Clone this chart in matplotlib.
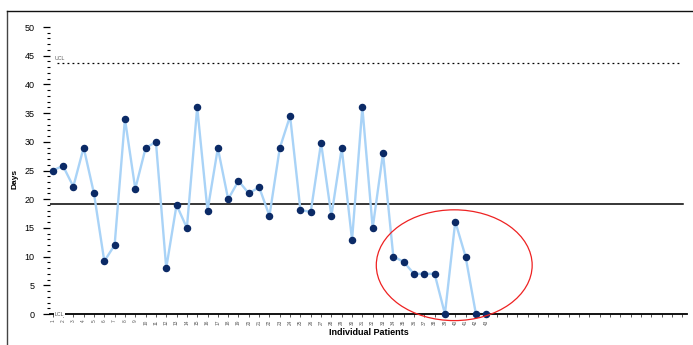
import matplotlib
matplotlib.use("Agg")
import matplotlib.pyplot as plt
from matplotlib.patches import Ellipse
from matplotlib.lines import Line2D
import numpy as np

plt.rcParams['font.family'] = ['Liberation Sans', 'DejaVu Sans']

patients = list(range(1, 44))
days = [25.0, 25.8, 22.2, 29.0, 21.0, 9.2, 12.0, 34.0, 21.8, 28.9,
        30.0, 8.0, 19.0, 15.0, 36.0, 18.0, 28.9, 20.0, 23.2, 21.0,
        22.1, 17.1, 28.9, 34.5, 18.1, 17.8, 29.8, 17.1, 28.9, 12.9,
        36.0, 15.0, 28.0, 10.0, 9.1, 7.0, 7.0, 7.0, 0.0, 16.1,
        10.0, 0.0, 0.0]
center_line = 19.1
ucl = 43.7
lcl = 0.0
n_slots = 62

fig = plt.figure(figsize=(6.93, 3.45), dpi=100)
ax = fig.add_axes([50/693, 31/345, 637/693, (314-18.4)/345])

x = np.array(patients)
ax.plot(x, days, color='#a9d3f7', lw=1.7, zorder=2, clip_on=False)
ax.plot(x, days, linestyle='none', marker='o', markersize=4.4,
        markerfacecolor='#0b2a66', markeredgecolor='#0b2a66', zorder=3, clip_on=False)

ax.set_xlim(0.74, 62.45)
ax.set_ylim(0, 51.5)

ax.axhline(center_line, xmin=0.0, xmax=0.994, color='black', lw=1.1, zorder=1)
ax.axhline(ucl, xmin=0.011, xmax=0.99, color='black', lw=0.9, linestyle=(0, (1.5, 2.5)), zorder=1)
ax.text(1.2, ucl + 0.4, 'UCL', fontsize=3.8, color='#555555', va='bottom', ha='left')
ax.text(1.2, lcl, 'LCL', fontsize=3.8, color='#555555', va='center', ha='left',
        bbox=dict(facecolor='white', edgecolor='none', pad=0.6), zorder=4, clip_on=False)

# spines
for s in ['top', 'right', 'left']:
    ax.spines[s].set_visible(False)
ax.spines['bottom'].set_color('black')
ax.spines['bottom'].set_linewidth(1.3)

ax.set_yticks(np.arange(0, 51, 5))
ax.set_yticks(np.arange(0, 51, 1), minor=True)
ax.tick_params(axis='y', which='major', length=5, width=0.9, labelsize=6.5, pad=6, colors='black')
ax.tick_params(axis='y', which='minor', length=2, width=0.8, colors='black')

ax.set_xticks(np.arange(1, n_slots + 1))
ax.set_xticklabels([str(p) for p in patients] + [''] * (n_slots - len(patients)),
                   rotation=90, fontsize=3.4, color='#444444')
ax.tick_params(axis='x', which='major', length=2.5, width=0.7, pad=1.5, colors='#555555')

ax.set_ylabel('Days', fontsize=6, fontweight='bold', labelpad=6)
ax.yaxis.set_label_coords(-31/637, 0.456)
ax.set_xlabel('Individual Patients', fontsize=6.5, fontweight='bold', labelpad=2)

ell = Ellipse((39.9, 8.5), width=15.1, height=19.3, fill=False, edgecolor='#ee2222',
              lw=0.9, zorder=5, clip_on=False)
ax.add_patch(ell)

# outer frame (left + top)
fig.add_artist(Line2D([7/693, 7/693], [0, 1 - 11/345], color='#444444', lw=1.0, transform=fig.transFigure))
fig.add_artist(Line2D([7/693, 1], [1 - 11/345, 1 - 11/345], color='#111111', lw=1.0, transform=fig.transFigure))

fig.savefig('out.png', dpi=100)
